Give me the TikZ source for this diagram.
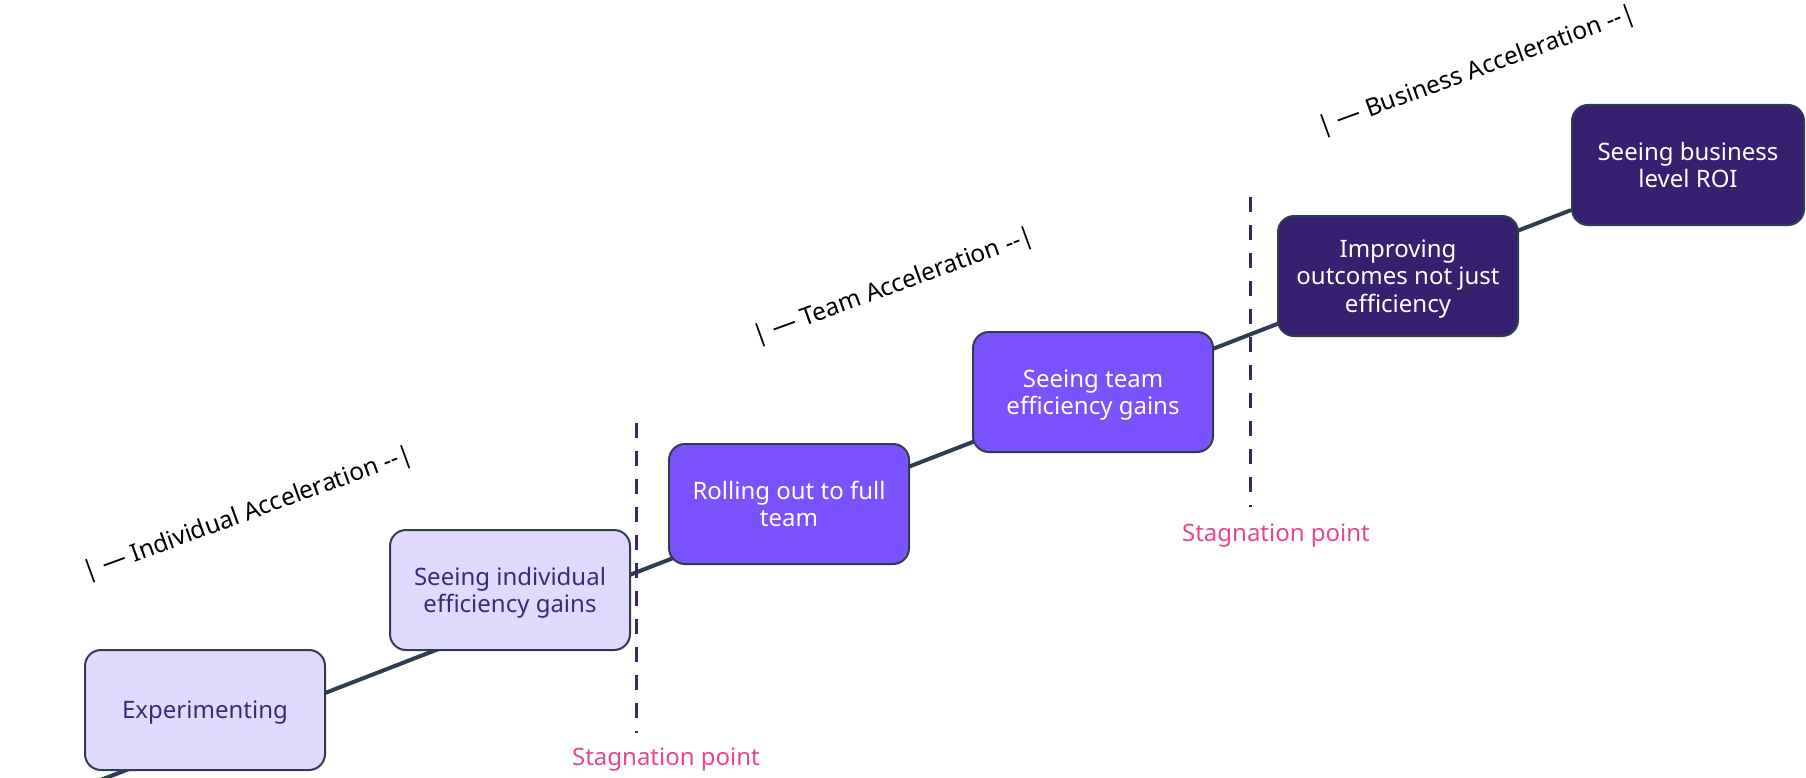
\documentclass[tikz,border=0pt]{standalone}
\usepackage{fontspec}
\setmainfont{Noto Sans}
\usetikzlibrary{backgrounds}
\definecolor{linegray}{HTML}{2F3D51}
\definecolor{lightfill}{HTML}{E0DAFE}
\definecolor{lighttext}{HTML}{3A2A78}
\definecolor{midfill}{HTML}{7B52FE}
\definecolor{darkfill}{HTML}{37206F}
\definecolor{dashpurple}{HTML}{3A2470}
\definecolor{stagpink}{HTML}{E8468E}
\tikzset{
  stagebox/.style={draw=linegray, line width=2pt, rounded corners=16pt,
    minimum width=240pt, minimum height=120pt, align=center, text depth=0pt,
    font=\fontsize{24}{27.6}\selectfont},
  lightbox/.style={stagebox, fill=lightfill, text=lighttext},
  midbox/.style={stagebox, fill=midfill, text=white},
  darkbox/.style={stagebox, fill=darkfill, text=white},
  phase/.style={rotate=20, font=\fontsize{24.5}{28}\selectfont},
  stagnation/.style={text=stagpink, font=\fontsize{24}{28}\selectfont},
  cutline/.style={dashpurple, line width=3pt, dash pattern=on 15pt off 13pt}
}
\begin{document}
\begin{tikzpicture}[x=1pt,y=1pt]
\useasboundingbox (0,0) rectangle (1806,-778);
% stages
\node[lightbox] (exp) at (205,-710) {Experimenting};
\node[lightbox] (indiv) at (510,-590) {Seeing individual\\efficiency gains};
\node[midbox] (rollout) at (789,-504) {Rolling out to full\\team};
\node[midbox] (teamgain) at (1093,-392) {Seeing team\\efficiency gains};
\node[darkbox] (outcomes) at (1398,-276) {Improving\\outcomes not just\\efficiency};
\node[darkbox, minimum width=232pt] (roi) at (1688,-165) {Seeing business\\level ROI};
% the rising line behind the stages
\begin{scope}[on background layer]
\coordinate (lineStart) at (98,-781);
\draw[linegray, line width=4pt] (lineStart) -- (roi);
\end{scope}
% stagnation points
\coordinate (stagA) at (636,-423);
\coordinate (stagB) at (1250,-197);
\draw[cutline] (stagA) -- ++(0,-310);
\draw[cutline] (stagB) -- ++(0,-310);
\node[stagnation] (stagAtext) at (666,-760) {Stagnation point};
\node[stagnation] (stagBtext) at (1276,-536) {Stagnation point};
% phases
\node[phase] (indivphase) at (248,-514) {| — Individual Acceleration -{}-|};
\node[phase] (teamphase) at (894,-287) {| — Team Acceleration -{}-|};
\node[phase] (bizphase) at (1477,-71) {| — Business Acceleration -{}-|};
\end{tikzpicture}
\end{document}
